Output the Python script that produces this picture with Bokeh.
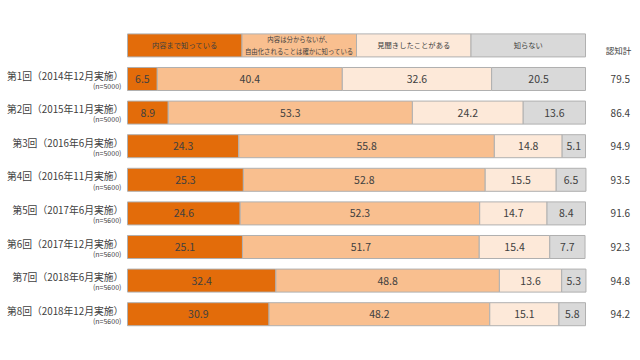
from bokeh.plotting import figure
from bokeh.models import Range1d, ColumnDataSource
from bokeh.core.properties import value
from bokeh.embed import file_html
from bokeh.resources import INLINE

rounds = ["第1回（2014年12月実施）", "第2回（2015年11月実施）", "第3回（2016年6月実施）",
          "第4回（2016年11月実施）", "第5回（2017年6月実施）", "第6回（2017年12月実施）",
          "第7回（2018年6月実施）", "第8回（2018年12月実施）"]
samples = ["(n=5000)", "(n=5000)", "(n=5000)", "(n=5600)", "(n=5600)", "(n=5600)", "(n=5600)", "(n=5600)"]
series_names = ["内容まで知っている", "内容は分からないが、\n自由化されることは確かに知っている",
                "見聞きしたことがある", "知らない"]
know_detail = [6.5, 8.9, 24.3, 25.3, 24.6, 25.1, 32.4, 30.9]
know_fact = [40.4, 53.3, 55.8, 52.8, 52.3, 51.7, 48.8, 48.2]
heard = [32.6, 24.2, 14.8, 15.5, 14.7, 15.4, 13.6, 15.1]
unknown = [20.5, 13.6, 5.1, 6.5, 8.4, 7.7, 5.3, 5.8]
awareness = [79.5, 86.4, 94.9, 93.5, 91.6, 92.3, 94.8, 94.2]
total_label = "認知計"

colors = ["#E36C0A", "#F9BF8F", "#FDE9D9", "#D9D9D9"]
FONT = "Noto Sans CJK JP"
W, H = 640, 360
px_per_unit = 4.58
x0_px = 127
row_px = 33.6
row0_px = 78.5

p = figure(width=W, height=H, output_backend="svg", toolbar_location=None,
           x_range=Range1d(-x0_px / px_per_unit, (W - x0_px) / px_per_unit),
           y_range=Range1d((H - row0_px) / row_px, -row0_px / row_px),
           min_border=0, min_border_left=0, min_border_right=0,
           min_border_top=0, min_border_bottom=0)
p.axis.visible = False
p.grid.visible = False
p.outline_line_color = None
p.background_fill_color = "white"
p.border_fill_color = "white"

series = [know_detail, know_fact, heard, unknown]
ys = list(range(len(rounds)))
bh = 0.685

left = [0.0] * len(rounds)
for k, vals in enumerate(series):
    right = [l + v for l, v in zip(left, vals)]
    src = ColumnDataSource(dict(y=ys, left=left, right=right,
                                mid=[(l + r) / 2 for l, r in zip(left, right)],
                                lab=[f"{v:.1f}" for v in vals]))
    p.hbar(y="y", left="left", right="right", height=bh, source=src,
           fill_color=colors[k], line_color="#B0B0B0", line_width=1)
    p.text(x="mid", y="y", text="lab", source=src, text_align="center",
           text_baseline="middle", text_font=value(FONT), text_font_size="10.5px",
           text_color="#404040")
    left = right

# legend boxes
lw = 25.0
leg = ColumnDataSource(dict(left=[i * lw for i in range(4)], right=[(i + 1) * lw for i in range(4)],
                            mid=[(i + 0.5) * lw for i in range(4)], y=[-1] * 4,
                            name=series_names, color=colors))
p.hbar(y="y", left="left", right="right", height=bh, source=leg,
       fill_color="color", line_color="#B0B0B0", line_width=1)
single = [0, 2, 3]
p.text(x=[leg.data["mid"][i] for i in single], y=[-1] * 3, text=[series_names[i] for i in single],
       text_align="center", text_baseline="middle", text_font=value(FONT),
       text_font_size="7.3px", text_color="#404040")
p.text(x=[leg.data["mid"][1]], y=[-1], text=[series_names[1]],
       text_align="center", text_baseline="middle", text_font=value(FONT),
       text_font_size="6.4px", text_color="#404040", text_line_height=1.3)

# row labels
lab_src = ColumnDataSource(dict(x=[-0.9] * 8, y=[y - 0.1 for y in ys], t=rounds,
                                y2=[y + 0.2 for y in ys], n=samples))
p.text(x="x", y="y", text="t", source=lab_src, text_align="right", text_baseline="middle",
       text_font=value(FONT), text_font_size="9.8px", text_color="#404040")
p.text(x="x", y="y2", text="n", source=lab_src, text_align="right", text_baseline="middle",
       text_font=value(FONT), text_font_size="7px", text_color="#404040", x_offset=-2)

# awareness totals
tot_src = ColumnDataSource(dict(x=[107.6] * 8, y=ys, t=[f"{v:.1f}" for v in awareness]))
p.text(x="x", y="y", text="t", source=tot_src, text_align="center", text_baseline="middle",
       text_font=value(FONT), text_font_size="10px", text_color="#404040")
p.text(x=[107.2], y=[-0.85], text=[total_label], text_align="center", text_baseline="middle",
       text_font=value(FONT), text_font_size="8.5px", text_color="#404040")

open("out.html", "w").write(file_html(p, INLINE))
